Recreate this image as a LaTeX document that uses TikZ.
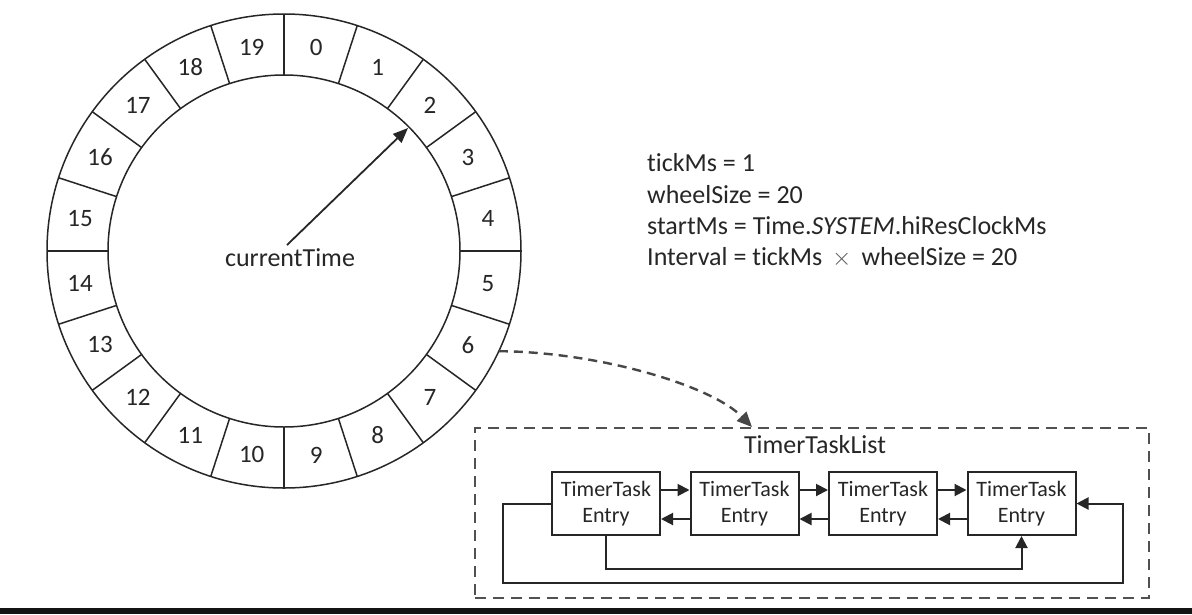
\documentclass[tikz,border=0pt]{standalone}
\usepackage{fontspec}
\setmainfont{Carlito}[Ligatures=NoCommon]
\usetikzlibrary{arrows.meta,calc}
\definecolor{ink}{HTML}{262626}
\begin{document}
\begin{tikzpicture}[x=1pt,y=-1pt,
  wheel/.style={line width=1.5pt, draw=ink},
  num/.style={font=\fontsize{25}{30}\selectfont, text=ink, inner sep=0pt},
  label/.style={font=\fontsize{26}{32}\selectfont, text=ink, inner sep=0pt},
  entry/.style={draw=ink, line width=2pt, minimum width=108pt, minimum height=63pt,
    align=center, inner sep=0pt, font=\fontsize{22}{26}\selectfont, text=ink},
  link/.style={line width=2pt, draw=ink, -{Triangle[length=12pt,width=12pt]}},
  listbox/.style={draw=ink!80, line width=2.8pt, dash pattern=on 11pt off 7pt,
    minimum width=674pt, minimum height=170pt, inner sep=0pt},
  dashlink/.style={draw=ink!85, line width=2.4pt, dash pattern=on 9pt off 6pt,
    -{Triangle[length=15pt,width=13pt]}},
  hand/.style={line width=1.8pt, draw=ink, -{Triangle[length=15pt,width=12pt]}}
]
\useasboundingbox (0,0) rectangle (1192,614);
\fill[white] (0,0) rectangle (1192,614);
\fill[black!92] (0,607.5) rectangle (1192,614);

% the wheel
\coordinate (C) at (284,251);
\draw[wheel] (C) circle[radius=237pt];
\draw[wheel] (C) circle[radius=176pt];
\foreach \k in {0,...,19}{
  \pgfmathsetmacro\a{90-18*\k}
  \pgfmathsetmacro\b{81-18*\k}
  \draw[wheel] ({284+176*cos(\a)},{251-176*sin(\a)}) -- ({284+237*cos(\a)},{251-237*sin(\a)});
  \node[num] (n\k) at ({284+206.5*cos(\b)},{251-206.5*sin(\b)}) {\k};
}

% current time pointer
\node[label, anchor=base] (ct) at (290,266) {currentTime};
\coordinate (hs) at (287,245);
\coordinate (ht) at (408,128);
\draw[hand] (hs) -- (ht);

% parameters
\node[label, anchor=base west] (p1) at (647,171) {tickMs = 1};
\node[label, anchor=base west] (p2) at (647,203) {wheelSize = 20};
\node[label, anchor=base west] (p3) at (647,234) {startMs = Time.\textit{SYSTEM}.hiResClockMs};
\node[label, anchor=base west] (p4) at (647,265) {Interval = tickMs \textcolor{ink!75}{$\,\times\,$} wheelSize = 20};

% timer task list
\node[listbox] (list) at (812,513) {};
\node[label, anchor=base] (lt) at (815,453) {TimerTaskList};
\node[entry] (b1) at (606,503.5) {TimerTask\\Entry};
\node[entry] (b2) at (744.5,503.5) {TimerTask\\Entry};
\node[entry] (b3) at (883,503.5) {TimerTask\\Entry};
\node[entry] (b4) at (1021.5,503.5) {TimerTask\\Entry};

\foreach \u/\v in {b1/b2,b2/b3,b3/b4}{
  \draw[link] ([yshift=13.5pt]\u.east) -- ([yshift=13.5pt]\v.west);
  \draw[link] ([yshift=-15.5pt]\v.west) -- ([yshift=-15.5pt]\u.east);
}
\draw[link] (b1.west) -- ++(-48,0) |- (1123,583) |- (b4.east);
\draw[link] (b1.south) -- ++(0,33) -| (b4.south);

% dashed link from slot 6
\coordinate (ds) at ({284+237*cos(25)},{251+237*sin(25)});
\coordinate (de) at (752,427);
\draw[dashlink] (ds) .. controls (600,352) and (712,386) .. (de);
\end{tikzpicture}
\end{document}
